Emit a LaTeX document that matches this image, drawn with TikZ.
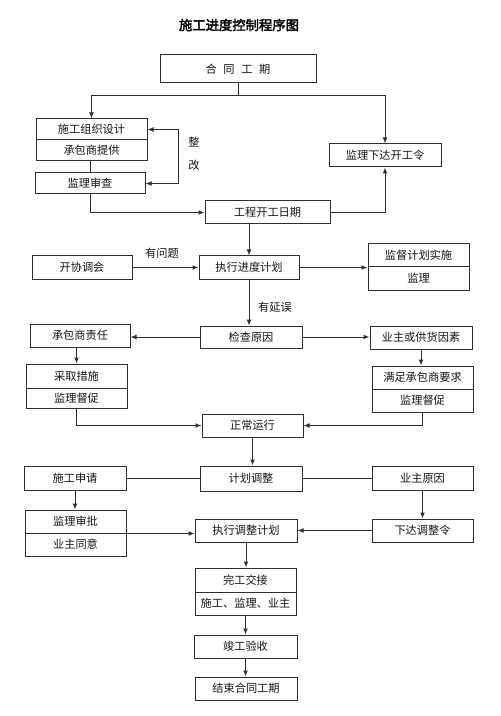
\documentclass[tikz,border=0pt]{standalone}
\usepackage{fontspec}
\setmainfont{Noto Sans CJK SC}
\newfontfamily\titlefont{Noto Sans CJK SC}[FakeBold=2.5]
\usetikzlibrary{arrows.meta,calc}
\definecolor{lc}{HTML}{2E2E2E}
\definecolor{tc}{HTML}{151515}
\begin{document}
\begin{tikzpicture}[x=0.75pt,y=-0.75pt,
  box/.style={draw=lc, line width=0.75pt, inner sep=0pt, text=tc, font=\fontsize{8.4}{10}\selectfont},
  bw/.style={minimum width=#1*0.75pt},
  bh/.style={minimum height=#1*0.75pt},
  ln/.style={draw=lc, line width=0.75pt},
  arr/.style={draw=lc, line width=0.75pt, -{Latex[length=4.5pt,width=3.6pt]}},
  lbl/.style={text=tc, inner sep=0pt, font=\fontsize{8.4}{10}\selectfont}]
\fill[white] (0,0) rectangle (500,716);
\useasboundingbox (0,0) rectangle (500,716);

\node[text=black, font=\titlefont\fontsize{10}{12}\selectfont] (title) at (239,25) {施工进度控制程序图};

\node[box,bw=156,bh=28] (hetong) at (238,69) {合\hspace{5pt}同\hspace{5pt}工\hspace{5pt}期};
\node[box,bw=111,bh=21] (sg1) at (91.5,129.5) {施工组织设计};
\node[box,bw=111,bh=21] (sg2) at (91.5,150.5) {承包商提供};
\node[box,bw=110,bh=21] (jlsc) at (90,183.5) {监理审查};
\node[box,bw=112,bh=23] (jlxd) at (385,155.5) {监理下达开工令};
\node[box,bw=125,bh=23] (kgrq) at (267.5,212.5) {工程开工日期};
\node[box,bw=100,bh=23] (kxth) at (82,267.5) {开协调会};
\node[box,bw=100,bh=23] (zxjd) at (249,267.5) {执行进度计划};
\node[box,bw=101,bh=23] (jd1) at (418.5,255.5) {监督计划实施};
\node[box,bw=101,bh=23] (jd2) at (418.5,278.5) {监理};
\node[box,bw=102,bh=22] (jcyy) at (251,337) {检查原因};
\node[box,bw=100,bh=23] (cbzr) at (80,335.5) {承包商责任};
\node[box,bw=102,bh=23] (yzgh) at (421,337.5) {业主或供货因素};
\node[box,bw=101,bh=24] (cq1) at (76.5,376) {采取措施};
\node[box,bw=101,bh=20] (cq2) at (76.5,398) {监理督促};
\node[box,bw=101,bh=23] (mz1) at (422.5,377.5) {满足承包商要求};
\node[box,bw=101,bh=23] (mz2) at (422.5,400.5) {监理督促};
\node[box,bw=101,bh=23] (zcyx) at (252.5,425.5) {正常运行};
\node[box,bw=102,bh=24] (sgsq) at (75,478) {施工申请};
\node[box,bw=102,bh=25] (jhtz) at (251,478.5) {计划调整};
\node[box,bw=101,bh=24] (yzyy) at (422.5,478) {业主原因};
\node[box,bw=101,bh=23] (jlsp) at (75.5,521.5) {监理审批};
\node[box,bw=101,bh=23] (yzty) at (75.5,544.5) {业主同意};
\node[box,bw=102,bh=23] (zxtz) at (246,530.5) {执行调整计划};
\node[box,bw=101,bh=23] (xdtz) at (422.5,530.5) {下达调整令};
\node[box,bw=101,bh=24] (wg1) at (245.5,580) {完工交接};
\node[box,bw=101,bh=23] (wg2) at (245.5,603.5) {施工、监理、业主};
\node[box,bw=103,bh=23] (jgys) at (245.5,646.5) {竣工验收};
\node[box,bw=102,bh=23] (jshq) at (246,688.5) {结束合同工期};

\node[lbl] (zheng) at (194,142) {整};
\node[lbl] (gai) at (194,165) {改};
\node[lbl] (ywt) at (162,253) {有问题};
\node[lbl] (yyw) at (275,307) {有延误};

% connectors
\coordinate (j1) at (238,96);
\draw[ln] (hetong.south) -- (j1);
\draw[arr] (j1) -| (sg1.north);
\draw[arr] (j1) -| (jlxd.north);
\draw[ln] (sg2.south -| jlsc.north) -- (jlsc.north);
\draw[draw=lc, line width=0.75pt, {Latex[length=4.5pt,width=3.6pt]}-{Latex[length=4.5pt,width=3.6pt]}]
  (sg1.east) -- ++(31,0) |- (jlsc.east);
\draw[arr] (jlsc.south) |- (kgrq.west);
\draw[arr] (kgrq.east) -| (jlxd.south);
\draw[arr] (kgrq.south -| zxjd.north) -- (zxjd.north);
\draw[arr] (kxth.east) -- (zxjd.west);
\draw[arr] (zxjd.east) -- (jd1.south west);
\draw[arr] (zxjd.south) -- (zxjd.south |- jcyy.north);
\draw[arr] (jcyy.west) -- (jcyy.west -| cbzr.east);
\draw[arr] (jcyy.east) -- (jcyy.east -| yzgh.west);
\draw[arr] (cq1.north |- cbzr.south) -- (cq1.north);
\draw[arr] (yzgh.south) -- (yzgh.south |- mz1.north);
\draw[arr] (cq2.south) |- (zcyx.west);
\draw[arr] (mz2.south) |- (zcyx.east);
\draw[arr] (zcyx.south) -- (zcyx.south |- jhtz.north);
\draw[ln] (jhtz.west) -- (jhtz.west -| sgsq.east);
\draw[ln] (jhtz.east) -- (jhtz.east -| yzyy.west);
\draw[arr] (sgsq.south) -- (sgsq.south |- jlsp.north);
\draw[arr] (yzyy.south) -- (yzyy.south |- xdtz.north);
\draw[arr] (jlsp.south east) -- (jlsp.south east -| zxtz.west);
\draw[arr] (xdtz.west) -- (zxtz.east);
\draw[arr] (zxtz.south) -- (zxtz.south |- wg1.north);
\draw[arr] (wg2.south) -- (wg2.south |- jgys.north);
\draw[arr] (jgys.south) -- (jgys.south |- jshq.north);
\end{tikzpicture}
\end{document}
